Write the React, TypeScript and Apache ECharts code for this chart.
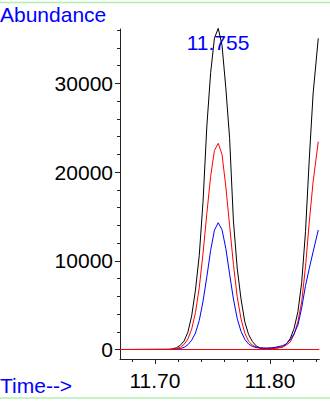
import React, { useEffect, useRef } from 'react';
import * as echarts from 'echarts';

// Retention times (min) of the scans
const times = [
  11.6696, 11.7121, 11.7154, 11.7187, 11.722, 11.7253, 11.7286, 11.7319, 11.7352, 11.7385,
  11.7418, 11.7451, 11.7484, 11.7517, 11.755, 11.7583, 11.7616, 11.7649, 11.7682, 11.7715,
  11.7748, 11.7781, 11.7814, 11.7847, 11.788, 11.7913, 11.7946, 11.7979, 11.8012, 11.8045,
  11.8078, 11.8111, 11.8144, 11.8177, 11.821, 11.8243, 11.8276, 11.8309, 11.8342, 11.8375,
  11.842,
];

const blackAbund = [
  0, 25, 74, 200, 480, 950, 1950, 3780, 6700, 10600,
  16700, 25200, 31200, 35100, 36200, 34300, 29500, 23800, 14500, 9190,
  5710, 3130, 1690, 900, 400, 180, 130, 120, 130, 150,
  200, 300, 650, 1245, 2390, 4265, 7570, 13300, 21490, 28810,
  35080,
];

const redAbund = [
  0, 10, 33, 96, 250, 565, 1175, 2295, 4160, 6960,
  10880, 15340, 19530, 22430, 23250, 22000, 18350, 13970, 9610, 5960,
  3460, 1860, 930, 500, 260, 170, 140, 130, 140, 160,
  210, 290, 520, 850, 1690, 3150, 5390, 9330, 14380, 18880,
  23430,
];

const blueAbund = [
  0, 4, 13, 41, 102, 242, 535, 1045, 1860, 3265,
  5450, 8210, 11180, 13445, 14300, 13500, 11400, 8500, 5700, 3500,
  2050, 1150, 620, 350, 220, 170, 150, 160, 190, 240,
  350, 430, 650, 1100, 1800, 2750, 4700, 7200, 9150, 11000,
  13470,
];

const baselineTimes = [11.6696, 11.8429];
const baselineAbund = [0, 0];

const xMajorTicks = [11.7, 11.8];
const xMinorTicks = [11.68, 11.72, 11.74, 11.76, 11.78, 11.82, 11.84];
const yMajorTicks = [0, 10000, 20000, 30000];
const yMinorTicks = [2000, 4000, 6000, 8000, 12000, 14000, 16000, 18000, 22000, 24000, 26000, 28000, 32000, 34000, 36000];

const X_MIN = 11.66957;
const X_MAX = 11.8429;
const Y_MIN = -1071;
const Y_MAX = 36133;

const yTitle = 'Abundance';
const xTitle = 'Time-->';
const peakLabel = '11.755';

export default function App() {
  const ref = useRef<HTMLDivElement>(null);

  useEffect(() => {
    const chart = echarts.init(ref.current as HTMLDivElement, null, { renderer: 'svg' });
    const font = '"Liberation Sans", Arial, sans-serif';
    const axisColor = '#222222';
    const pairs = (xs: number[], ys: number[]) => xs.map((t, i) => [t, ys[i]]);

    const baseX = {
      type: 'value',
      min: X_MIN,
      max: X_MAX,
      position: 'bottom',
      splitLine: { show: false },
    };
    const baseY = {
      type: 'value',
      min: Y_MIN,
      max: Y_MAX,
      position: 'left',
      splitLine: { show: false },
    };

    chart.setOption({
      animation: false,
      grid: { left: 120, top: 29, width: 199.3, height: 330, containLabel: false },
      xAxis: [
        {
          ...baseX,
          axisLine: { show: true, onZero: false, lineStyle: { color: axisColor, width: 1 } },
          axisTick: { show: true, length: 5, customValues: xMajorTicks, lineStyle: { color: axisColor } },
          axisLabel: {
            show: true,
            customValues: xMajorTicks,
            formatter: (v: number) => v.toFixed(2),
            margin: 11,
            fontSize: 21,
            fontFamily: font,
            color: '#000000',
          },
        },
        {
          ...baseX,
          axisLine: { show: false, onZero: false },
          axisTick: { show: true, length: 3, customValues: xMinorTicks, lineStyle: { color: axisColor } },
          axisLabel: { show: false },
        },
      ],
      yAxis: [
        {
          ...baseY,
          axisLine: { show: true, onZero: false, lineStyle: { color: axisColor, width: 1 } },
          axisTick: { show: true, length: 5, customValues: yMajorTicks, lineStyle: { color: axisColor } },
          axisLabel: {
            show: true,
            customValues: yMajorTicks,
            formatter: (v: number) => String(Math.round(v)),
            margin: 7,
            fontSize: 21,
            fontFamily: font,
            color: '#000000',
          },
        },
        {
          ...baseY,
          axisLine: { show: false, onZero: false },
          axisTick: { show: true, length: 3, customValues: yMinorTicks, lineStyle: { color: axisColor } },
          axisLabel: { show: false },
        },
      ],
      series: [
        {
          type: 'line', data: pairs(times, blackAbund), symbol: 'none', showSymbol: false, clip: false,
          lineStyle: { color: '#000000', width: 1 }, itemStyle: { color: '#000000' },
        },
        {
          type: 'line', data: pairs(times, redAbund), symbol: 'none', showSymbol: false, clip: false,
          lineStyle: { color: '#ff0000', width: 1 }, itemStyle: { color: '#ff0000' },
        },
        {
          type: 'line', data: pairs(times, blueAbund), symbol: 'none', showSymbol: false, clip: false,
          lineStyle: { color: '#0000ff', width: 1 }, itemStyle: { color: '#0000ff' },
        },
        {
          type: 'line', data: pairs(baselineTimes, baselineAbund), symbol: 'none', showSymbol: false, clip: false,
          lineStyle: { color: '#ff0000', width: 1 }, itemStyle: { color: '#ff0000' },
        },
      ],
      graphic: [
        { type: 'line', shape: { x1: 0, y1: 2.5, x2: 330, y2: 2.5 }, style: { stroke: '#b0f0b0', lineWidth: 1.5 } },
        { type: 'line', shape: { x1: 0, y1: 398, x2: 330, y2: 398 }, style: { stroke: '#b0f0b0', lineWidth: 1.5 } },
        {
          type: 'text', x: 0, y: 14.4,
          style: { text: yTitle, fill: '#0000ff', fontSize: 21, fontFamily: font, textAlign: 'left', textVerticalAlign: 'middle' },
        },
        {
          type: 'text', x: 218, y: 42,
          style: { text: peakLabel, fill: '#0000ff', fontSize: 21, fontFamily: font, textAlign: 'center', textVerticalAlign: 'middle' },
        },
        {
          type: 'text', x: 0, y: 385.4,
          style: { text: xTitle, fill: '#0000ff', fontSize: 21, fontFamily: font, textAlign: 'left', textVerticalAlign: 'middle' },
        },
      ],
    });

    return () => chart.dispose();
  }, []);

  return (
    <div
      ref={ref}
      style={{ position: 'absolute', left: 0, top: 0, width: 330, height: 402, background: '#ffffff' }}
    />
  );
}
